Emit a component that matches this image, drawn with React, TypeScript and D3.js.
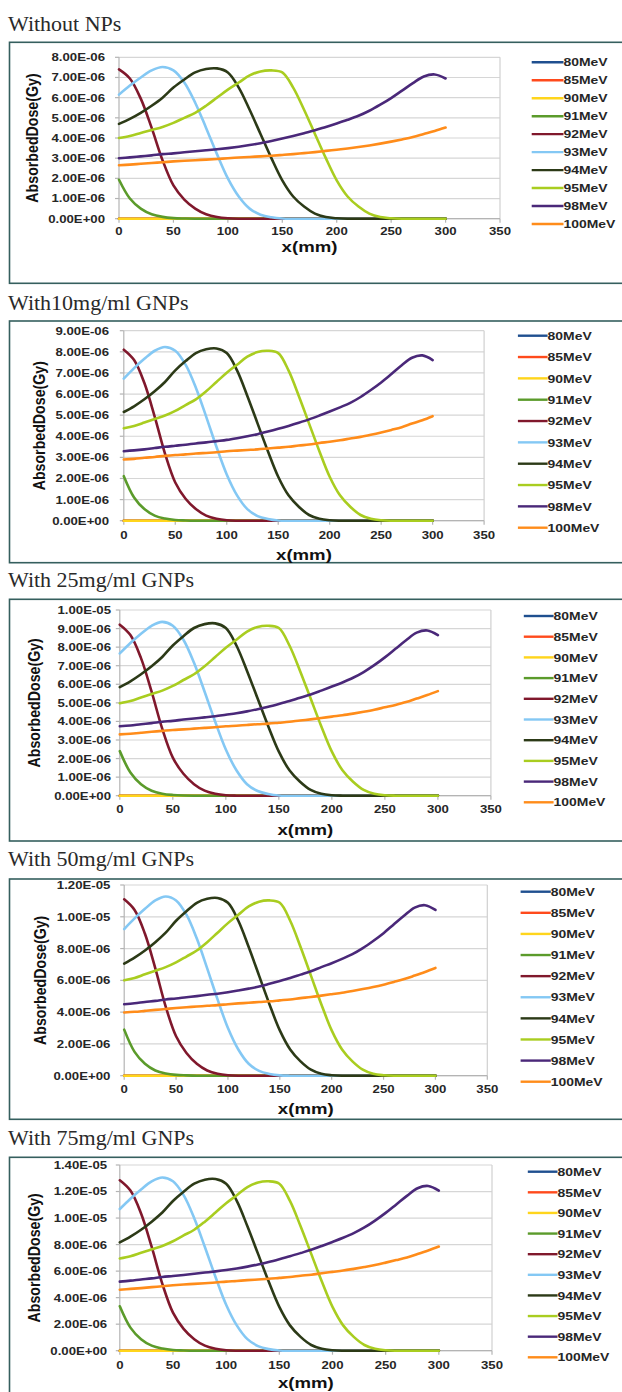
import React from "react";
import * as d3 from "d3";

// Depth along the phantom (mm); every dose row below is sampled at these points.
const depthMm = [
  0, 10, 20, 30, 40, 50, 60, 70, 80, 90,
  100, 110, 120, 130, 140, 150, 160, 170, 180, 190,
  200, 210, 220, 230, 240, 250, 260, 270, 280, 290,
  300,
];

const beamEnergies = ["80MeV", "85MeV", "90MeV", "91MeV", "92MeV", "93MeV", "94MeV", "95MeV", "98MeV", "100MeV"];
const beamColors = ["#1f4f8f", "#ff4a1c", "#ffd51c", "#5b9b2b", "#80182c", "#84c8f4", "#2c3a17", "#a9cd20", "#4a2879", "#ff8c1a"];

const xTickValues = [0, 50, 100, 150, 200, 250, 300, 350];
const xTickLabels = ["0", "50", "100", "150", "200", "250", "300", "350"];

// Absorbed dose, in units of 1e-6 Gy.
const zeroDose = [
  0, 0, 0, 0, 0, 0, 0, 0, 0, 0,
  0, 0, 0, 0, 0, 0, 0, 0, 0, 0,
  0, 0, 0, 0, 0, 0, 0, 0, 0, 0,
  0,
];

// ---- Without NPs ----
const noNP91 = [
  1.93, 1.0, 0.5, 0.22, 0.09, 0.03, 0.01, 0, 0, 0,
  0, 0, 0, 0, 0, 0, 0, 0, 0, 0,
  0, 0, 0, 0, 0, 0, 0, 0, 0, 0,
  0,
];
const noNP92 = [
  7.4, 6.95, 5.95, 4.5, 2.9, 1.65, 0.95, 0.5, 0.22, 0.08,
  0.02, 0, 0, 0, 0, 0, 0, 0, 0, 0,
  0, 0, 0, 0, 0, 0, 0, 0, 0, 0,
  0,
];
const noNP93 = [
  6.15, 6.6, 7.0, 7.35, 7.52, 7.35, 6.75, 5.75, 4.5, 3.2,
  2.0, 1.1, 0.5, 0.2, 0.07, 0.01, 0, 0, 0, 0,
  0, 0, 0, 0, 0, 0, 0, 0, 0, 0,
  0,
];
const noNP94 = [
  4.7, 4.95, 5.25, 5.6, 6.0, 6.5, 6.9, 7.25, 7.42, 7.45,
  7.25, 6.5, 5.4, 4.2, 3.0, 1.9, 1.1, 0.6, 0.25, 0.08,
  0.02, 0, 0, 0, 0, 0, 0, 0, 0, 0,
  0,
];
const noNP95 = [
  4.0, 4.1, 4.25, 4.4, 4.55, 4.75, 5.0, 5.25, 5.6, 6.0,
  6.4, 6.75, 7.1, 7.3, 7.35, 7.25, 6.5, 5.4, 4.2, 3.0,
  1.9, 1.1, 0.6, 0.25, 0.08, 0.02, 0, 0, 0, 0,
  0,
];
const noNP98 = [
  3.0, 3.04, 3.09, 3.14, 3.2, 3.24, 3.29, 3.34, 3.39, 3.44,
  3.5, 3.57, 3.65, 3.74, 3.85, 3.97, 4.1, 4.24, 4.38, 4.55,
  4.72, 4.9, 5.1, 5.35, 5.65, 5.98, 6.35, 6.72, 7.05, 7.15,
  6.95,
];
const noNP100 = [
  2.65, 2.68, 2.72, 2.76, 2.8, 2.84, 2.87, 2.9, 2.93, 2.96,
  3.0, 3.03, 3.06, 3.09, 3.12, 3.16, 3.2, 3.25, 3.3, 3.36,
  3.42, 3.48, 3.55, 3.63, 3.72, 3.82, 3.93, 4.05, 4.2, 4.35,
  4.52,
];

// ---- With 10 mg/ml GNPs ----
const gnp10_91 = [
  2.11, 1.1, 0.55, 0.24, 0.1, 0.03, 0.01, 0, 0, 0,
  0, 0, 0, 0, 0, 0, 0, 0, 0, 0,
  0, 0, 0, 0, 0, 0, 0, 0, 0, 0,
  0,
];
const gnp10_92 = [
  8.1, 7.61, 6.52, 4.93, 3.18, 1.81, 1.04, 0.55, 0.24, 0.09,
  0.02, 0, 0, 0, 0, 0, 0, 0, 0, 0,
  0, 0, 0, 0, 0, 0, 0, 0, 0, 0,
  0,
];
const gnp10_93 = [
  6.73, 7.23, 7.67, 8.05, 8.23, 8.05, 7.39, 6.3, 4.93, 3.5,
  2.19, 1.2, 0.55, 0.22, 0.08, 0.01, 0, 0, 0, 0,
  0, 0, 0, 0, 0, 0, 0, 0, 0, 0,
  0,
];
const gnp10_94 = [
  5.15, 5.42, 5.75, 6.13, 6.57, 7.12, 7.56, 7.94, 8.12, 8.16,
  7.94, 7.12, 5.91, 4.6, 3.29, 2.08, 1.2, 0.66, 0.27, 0.09,
  0.02, 0, 0, 0, 0, 0, 0, 0, 0, 0,
  0,
];
const gnp10_95 = [
  4.38, 4.49, 4.65, 4.82, 4.98, 5.2, 5.48, 5.75, 6.13, 6.57,
  7.01, 7.39, 7.77, 7.99, 8.05, 7.94, 7.12, 5.91, 4.6, 3.29,
  2.08, 1.2, 0.66, 0.27, 0.09, 0.02, 0, 0, 0, 0,
  0,
];
const gnp10_98 = [
  3.29, 3.33, 3.38, 3.44, 3.5, 3.55, 3.6, 3.66, 3.71, 3.77,
  3.83, 3.91, 4.0, 4.1, 4.22, 4.35, 4.49, 4.64, 4.8, 4.98,
  5.17, 5.37, 5.58, 5.86, 6.19, 6.55, 6.95, 7.36, 7.72, 7.83,
  7.61,
];
const gnp10_100 = [
  2.9, 2.93, 2.98, 3.02, 3.07, 3.11, 3.14, 3.18, 3.21, 3.24,
  3.29, 3.32, 3.35, 3.38, 3.42, 3.46, 3.5, 3.56, 3.61, 3.68,
  3.74, 3.81, 3.89, 3.97, 4.07, 4.18, 4.3, 4.43, 4.6, 4.76,
  4.95,
];

// ---- With 25 mg/ml GNPs ----
const gnp25_91 = [
  2.4, 1.25, 0.62, 0.27, 0.11, 0.04, 0.01, 0, 0, 0,
  0, 0, 0, 0, 0, 0, 0, 0, 0, 0,
  0, 0, 0, 0, 0, 0, 0, 0, 0, 0,
  0,
];
const gnp25_92 = [
  9.21, 8.65, 7.41, 5.6, 3.61, 2.05, 1.18, 0.62, 0.27, 0.1,
  0.02, 0, 0, 0, 0, 0, 0, 0, 0, 0,
  0, 0, 0, 0, 0, 0, 0, 0, 0, 0,
  0,
];
const gnp25_93 = [
  7.66, 8.22, 8.72, 9.15, 9.36, 9.15, 8.4, 7.16, 5.6, 3.98,
  2.49, 1.37, 0.62, 0.25, 0.09, 0.01, 0, 0, 0, 0,
  0, 0, 0, 0, 0, 0, 0, 0, 0, 0,
  0,
];
const gnp25_94 = [
  5.85, 6.16, 6.54, 6.97, 7.47, 8.09, 8.59, 9.03, 9.24, 9.28,
  9.03, 8.09, 6.72, 5.23, 3.74, 2.37, 1.37, 0.75, 0.31, 0.1,
  0.02, 0, 0, 0, 0, 0, 0, 0, 0, 0,
  0,
];
const gnp25_95 = [
  4.98, 5.1, 5.29, 5.48, 5.66, 5.91, 6.23, 6.54, 6.97, 7.47,
  7.97, 8.4, 8.84, 9.09, 9.15, 9.03, 8.09, 6.72, 5.23, 3.74,
  2.37, 1.37, 0.75, 0.31, 0.1, 0.02, 0, 0, 0, 0,
  0,
];
const gnp25_98 = [
  3.74, 3.78, 3.85, 3.91, 3.98, 4.03, 4.1, 4.16, 4.22, 4.28,
  4.36, 4.44, 4.54, 4.66, 4.79, 4.94, 5.1, 5.28, 5.45, 5.66,
  5.88, 6.1, 6.35, 6.66, 7.03, 7.45, 7.91, 8.37, 8.78, 8.9,
  8.65,
];
const gnp25_100 = [
  3.3, 3.34, 3.39, 3.44, 3.49, 3.54, 3.57, 3.61, 3.65, 3.69,
  3.74, 3.77, 3.81, 3.85, 3.88, 3.93, 3.98, 4.05, 4.11, 4.18,
  4.26, 4.33, 4.42, 4.52, 4.63, 4.76, 4.89, 5.04, 5.23, 5.42,
  5.63,
];

// ---- With 50 mg/ml GNPs ----
const gnp50_91 = [
  2.9, 1.5, 0.75, 0.33, 0.14, 0.05, 0.02, 0, 0, 0,
  0, 0, 0, 0, 0, 0, 0, 0, 0, 0,
  0, 0, 0, 0, 0, 0, 0, 0, 0, 0,
  0,
];
const gnp50_92 = [
  11.1, 10.43, 8.93, 6.75, 4.35, 2.48, 1.43, 0.75, 0.33, 0.12,
  0.03, 0, 0, 0, 0, 0, 0, 0, 0, 0,
  0, 0, 0, 0, 0, 0, 0, 0, 0, 0,
  0,
];
const gnp50_93 = [
  9.23, 9.9, 10.5, 11.03, 11.28, 11.03, 10.13, 8.63, 6.75, 4.8,
  3.0, 1.65, 0.75, 0.3, 0.11, 0.02, 0, 0, 0, 0,
  0, 0, 0, 0, 0, 0, 0, 0, 0, 0,
  0,
];
const gnp50_94 = [
  7.05, 7.43, 7.88, 8.4, 9.0, 9.75, 10.35, 10.88, 11.13, 11.18,
  10.88, 9.75, 8.1, 6.3, 4.5, 2.85, 1.65, 0.9, 0.38, 0.12,
  0.03, 0, 0, 0, 0, 0, 0, 0, 0, 0,
  0,
];
const gnp50_95 = [
  6.0, 6.15, 6.38, 6.6, 6.83, 7.13, 7.5, 7.88, 8.4, 9.0,
  9.6, 10.13, 10.65, 10.95, 11.03, 10.88, 9.75, 8.1, 6.3, 4.5,
  2.85, 1.65, 0.9, 0.38, 0.12, 0.03, 0, 0, 0, 0,
  0,
];
const gnp50_98 = [
  4.5, 4.56, 4.64, 4.71, 4.8, 4.86, 4.94, 5.01, 5.09, 5.16,
  5.25, 5.36, 5.48, 5.61, 5.78, 5.96, 6.15, 6.36, 6.57, 6.83,
  7.08, 7.35, 7.65, 8.03, 8.48, 8.97, 9.53, 10.08, 10.58, 10.73,
  10.43,
];
const gnp50_100 = [
  3.98, 4.02, 4.08, 4.14, 4.2, 4.26, 4.31, 4.35, 4.4, 4.44,
  4.5, 4.55, 4.59, 4.64, 4.68, 4.74, 4.8, 4.88, 4.95, 5.04,
  5.13, 5.22, 5.33, 5.45, 5.58, 5.73, 5.9, 6.08, 6.3, 6.53,
  6.78,
];

// ---- With 75 mg/ml GNPs ----
const gnp75_91 = [
  3.35, 1.74, 0.87, 0.38, 0.16, 0.05, 0.02, 0, 0, 0,
  0, 0, 0, 0, 0, 0, 0, 0, 0, 0,
  0, 0, 0, 0, 0, 0, 0, 0, 0, 0,
  0,
];
const gnp75_92 = [
  12.85, 12.07, 10.34, 7.82, 5.04, 2.87, 1.65, 0.87, 0.38, 0.14,
  0.03, 0, 0, 0, 0, 0, 0, 0, 0, 0,
  0, 0, 0, 0, 0, 0, 0, 0, 0, 0,
  0,
];
const gnp75_93 = [
  10.68, 11.46, 12.16, 12.77, 13.06, 12.77, 11.73, 9.99, 7.82, 5.56,
  3.47, 1.91, 0.87, 0.35, 0.12, 0.02, 0, 0, 0, 0,
  0, 0, 0, 0, 0, 0, 0, 0, 0, 0,
  0,
];
const gnp75_94 = [
  8.16, 8.6, 9.12, 9.73, 10.42, 11.29, 11.99, 12.59, 12.89, 12.94,
  12.59, 11.29, 9.38, 7.3, 5.21, 3.3, 1.91, 1.04, 0.43, 0.14,
  0.03, 0, 0, 0, 0, 0, 0, 0, 0, 0,
  0,
];
const gnp75_95 = [
  6.95, 7.12, 7.38, 7.64, 7.9, 8.25, 8.69, 9.12, 9.73, 10.42,
  11.12, 11.72, 12.33, 12.68, 12.77, 12.59, 11.29, 9.38, 7.3, 5.21,
  3.3, 1.91, 1.04, 0.43, 0.14, 0.03, 0, 0, 0, 0,
  0,
];
const gnp75_98 = [
  5.21, 5.28, 5.37, 5.45, 5.56, 5.63, 5.71, 5.8, 5.89, 5.98,
  6.08, 6.2, 6.34, 6.5, 6.69, 6.9, 7.12, 7.36, 7.61, 7.9,
  8.2, 8.51, 8.86, 9.29, 9.81, 10.39, 11.03, 11.67, 12.25, 12.42,
  12.07,
];
const gnp75_100 = [
  4.6, 4.66, 4.72, 4.79, 4.86, 4.93, 4.99, 5.04, 5.09, 5.14,
  5.21, 5.26, 5.32, 5.37, 5.42, 5.49, 5.56, 5.65, 5.73, 5.84,
  5.94, 6.04, 6.17, 6.31, 6.46, 6.64, 6.83, 7.03, 7.29, 7.56,
  7.85,
];

// Y axis ticks (1e-6 Gy) and their printed labels.
const yTicks8 = [0, 1, 2, 3, 4, 5, 6, 7, 8];
const yLabels8 = ["0.00E+00", "1.00E-06", "2.00E-06", "3.00E-06", "4.00E-06", "5.00E-06", "6.00E-06", "7.00E-06", "8.00E-06"];
const yTicks9 = [0, 1, 2, 3, 4, 5, 6, 7, 8, 9];
const yLabels9 = ["0.00E+00", "1.00E-06", "2.00E-06", "3.00E-06", "4.00E-06", "5.00E-06", "6.00E-06", "7.00E-06", "8.00E-06", "9.00E-06"];
const yTicks10 = [0, 1, 2, 3, 4, 5, 6, 7, 8, 9, 10];
const yLabels10 = ["0.00E+00", "1.00E-06", "2.00E-06", "3.00E-06", "4.00E-06", "5.00E-06", "6.00E-06", "7.00E-06", "8.00E-06", "9.00E-06", "1.00E-05"];
const yTicks12 = [0, 2, 4, 6, 8, 10, 12];
const yLabels12 = ["0.00E+00", "2.00E-06", "4.00E-06", "6.00E-06", "8.00E-06", "1.00E-05", "1.20E-05"];
const yTicks14 = [0, 2, 4, 6, 8, 10, 12, 14];
const yLabels14 = ["0.00E+00", "2.00E-06", "4.00E-06", "6.00E-06", "8.00E-06", "1.00E-05", "1.20E-05", "1.40E-05"];

const panelTitles = ["Without NPs", "With10mg/ml GNPs", "With 25mg/ml GNPs", "With 50mg/ml GNPs", "With 75mg/ml GNPs"];

const panelRows = [
  [zeroDose, zeroDose, zeroDose, noNP91, noNP92, noNP93, noNP94, noNP95, noNP98, noNP100],
  [zeroDose, zeroDose, zeroDose, gnp10_91, gnp10_92, gnp10_93, gnp10_94, gnp10_95, gnp10_98, gnp10_100],
  [zeroDose, zeroDose, zeroDose, gnp25_91, gnp25_92, gnp25_93, gnp25_94, gnp25_95, gnp25_98, gnp25_100],
  [zeroDose, zeroDose, zeroDose, gnp50_91, gnp50_92, gnp50_93, gnp50_94, gnp50_95, gnp50_98, gnp50_100],
  [zeroDose, zeroDose, zeroDose, gnp75_91, gnp75_92, gnp75_93, gnp75_94, gnp75_95, gnp75_98, gnp75_100],
];
const panelYTicks = [yTicks8, yTicks9, yTicks10, yTicks12, yTicks14];
const panelYLabels = [yLabels8, yLabels9, yLabels10, yLabels12, yLabels14];

// Page geometry of each framed chart.
type Frame = {
  titleY: number; boxTop: number; boxBottom: number;
  left: number; right: number; top: number; bottom: number;
  legX1: number; legX2: number; legY0: number; legY9: number;
  xLabY: number; xTitleY: number; yLabRight: number; yTitleX: number;
};
const frames: Frame[] = [
  { titleY: 31, boxTop: 42.3, boxBottom: 283.3, left: 119, right: 500, top: 57.3, bottom: 218.7, legX1: 531.7, legX2: 563.5, legY0: 62.3, legY9: 224, xLabY: 230.7, xTitleY: 246.7, yLabRight: 105, yTitleX: 31.7 },
  { titleY: 310, boxTop: 321, boxBottom: 562.7, left: 123.8, right: 484.1, top: 330.7, bottom: 520.7, legX1: 517.9, legX2: 547.6, legY0: 335.7, legY9: 527.7, xLabY: 535, xTitleY: 554.3, yLabRight: 109, yTitleX: 38.5 },
  { titleY: 586.7, boxTop: 599.3, boxBottom: 841, left: 119.8, right: 490.9, top: 610, bottom: 795.7, legX1: 523.8, legX2: 553.6, legY0: 616, legY9: 802.3, xLabY: 809.3, xTitleY: 829.3, yLabRight: 111, yTitleX: 33.7 },
  { titleY: 866, boxTop: 879, boxBottom: 1119.3, left: 124.2, right: 487.3, top: 885, bottom: 1075.7, legX1: 520.6, legX2: 550.8, legY0: 891.7, legY9: 1081.7, xLabY: 1089.3, xTitleY: 1108.3, yLabRight: 110.3, yTitleX: 39.7 },
  { titleY: 1145, boxTop: 1157.3, boxBottom: 1410, left: 119.8, right: 492, top: 1165, bottom: 1350.7, legX1: 527.8, legX2: 557.5, legY0: 1171.7, legY9: 1357.3, xLabY: 1365, xTitleY: 1382.6, yLabRight: 107.1, yTitleX: 33.7 },
];

const SX = 1.2; // horizontal widening of the chart lettering
const sans = "'Liberation Sans', Arial, sans-serif";
const serif = "'Liberation Serif', 'Times New Roman', serif";

function DosePanel({ frame, title, rows, yTicks, yLabels }: {
  frame: Frame; title: string; rows: number[][]; yTicks: number[]; yLabels: string[];
}) {
  const x = d3.scaleLinear().domain([0, 350]).range([frame.left, frame.right]);
  const y = d3.scaleLinear().domain([0, yTicks[yTicks.length - 1]]).range([frame.bottom, frame.top]);
  const line = d3
    .line<number>()
    .x((_, i) => x(depthMm[i]))
    .y((d) => y(Math.max(0, d)))
    .curve(d3.curveCatmullRom.alpha(0.5));
  const legendY = d3.scalePoint<string>().domain(beamEnergies).range([frame.legY0, frame.legY9]);
  const midX = (frame.left + frame.right) / 2;
  const midY = (frame.top + frame.bottom) / 2;
  const yTop = y(yTicks[yTicks.length - 1]);

  return (
    <g>
      <text x={8} y={frame.titleY} fontFamily={serif} fontSize={22} fill="#2a2a2a">{title}</text>
      <rect x={9.5} y={frame.boxTop} width={700} height={frame.boxBottom - frame.boxTop} fill="none" stroke="#355f5e" strokeWidth={1.6} />

      {/* grid */}
      {yTicks.map((t) => (
        <line key={"g" + t} x1={x(0)} x2={x(350)} y1={y(t)} y2={y(t)} stroke="#d6d6d6" strokeWidth={1.2} />
      ))}
      <line x1={x(350)} x2={x(350)} y1={yTop} y2={y(0)} stroke="#d0d0d0" strokeWidth={1.2} />
      <line x1={x(0)} x2={x(0)} y1={yTop} y2={y(0)} stroke="#b4b4b4" strokeWidth={1.2} />
      <line x1={x(0)} x2={x(350)} y1={y(0)} y2={y(0)} stroke="#b4b4b4" strokeWidth={1.2} />
      {yTicks.map((t) => (
        <line key={"yt" + t} x1={x(0) - 4} x2={x(0)} y1={y(t)} y2={y(t)} stroke="#b4b4b4" strokeWidth={1.2} />
      ))}
      {xTickValues.map((t) => (
        <line key={"xt" + t} x1={x(t)} x2={x(t)} y1={y(0)} y2={y(0) + 4} stroke="#b4b4b4" strokeWidth={1.2} />
      ))}

      {/* dose curves */}
      {rows.map((row, i) => (
        <path key={beamEnergies[i]} d={line(row) || ""} fill="none" stroke={beamColors[i]} strokeWidth={2.6} strokeLinejoin="round" strokeLinecap="round" />
      ))}

      {/* tick labels */}
      {yTicks.map((t, i) => (
        <text key={"yl" + t} transform={`translate(${frame.yLabRight},${y(t)}) scale(${SX},1)`} dy="0.36em" textAnchor="end"
          fontFamily={sans} fontWeight="bold" fontSize={11} fill="#262626">{yLabels[i]}</text>
      ))}
      {xTickValues.map((t, i) => (
        <text key={"xl" + t} transform={`translate(${x(t)},${frame.xLabY}) scale(${SX},1)`} dy="0.36em" textAnchor="middle"
          fontFamily={sans} fontWeight="bold" fontSize={11} fill="#262626">{xTickLabels[i]}</text>
      ))}

      {/* axis titles */}
      <text transform={`translate(${midX},${frame.xTitleY}) scale(${SX},1)`} dy="0.36em" textAnchor="middle"
        fontFamily={sans} fontWeight="bold" fontSize={15.5} fill="#111">x(mm)</text>
      <text transform={`translate(${frame.yTitleX},${midY}) scale(${SX},1) rotate(-90)`} dy="0.36em" textAnchor="middle"
        fontFamily={sans} fontWeight="bold" fontSize={14.2} fill="#111">AbsorbedDose(Gy)</text>

      {/* legend */}
      {beamEnergies.map((e, i) => (
        <g key={"lg" + e}>
          <line x1={frame.legX1} x2={frame.legX2} y1={legendY(e)} y2={legendY(e)} stroke={beamColors[i]} strokeWidth={2.4} />
          <text transform={`translate(${frame.legX2},${legendY(e)}) scale(${SX},1)`} dy="0.36em"
            fontFamily={sans} fontWeight="bold" fontSize={11.6} fill="#262626">{e}</text>
        </g>
      ))}
    </g>
  );
}

export default function App() {
  return (
    <div style={{ position: "absolute", left: 0, top: 0, width: 622, height: 1392, background: "#fff" }}>
      <svg width={622} height={1392} viewBox="0 0 622 1392" style={{ display: "block" }}>
        <rect width={622} height={1392} fill="#fff" />
        {frames.map((f, i) => (
          <DosePanel key={i} frame={f} title={panelTitles[i]} rows={panelRows[i]} yTicks={panelYTicks[i]} yLabels={panelYLabels[i]} />
        ))}
      </svg>
    </div>
  );
}
